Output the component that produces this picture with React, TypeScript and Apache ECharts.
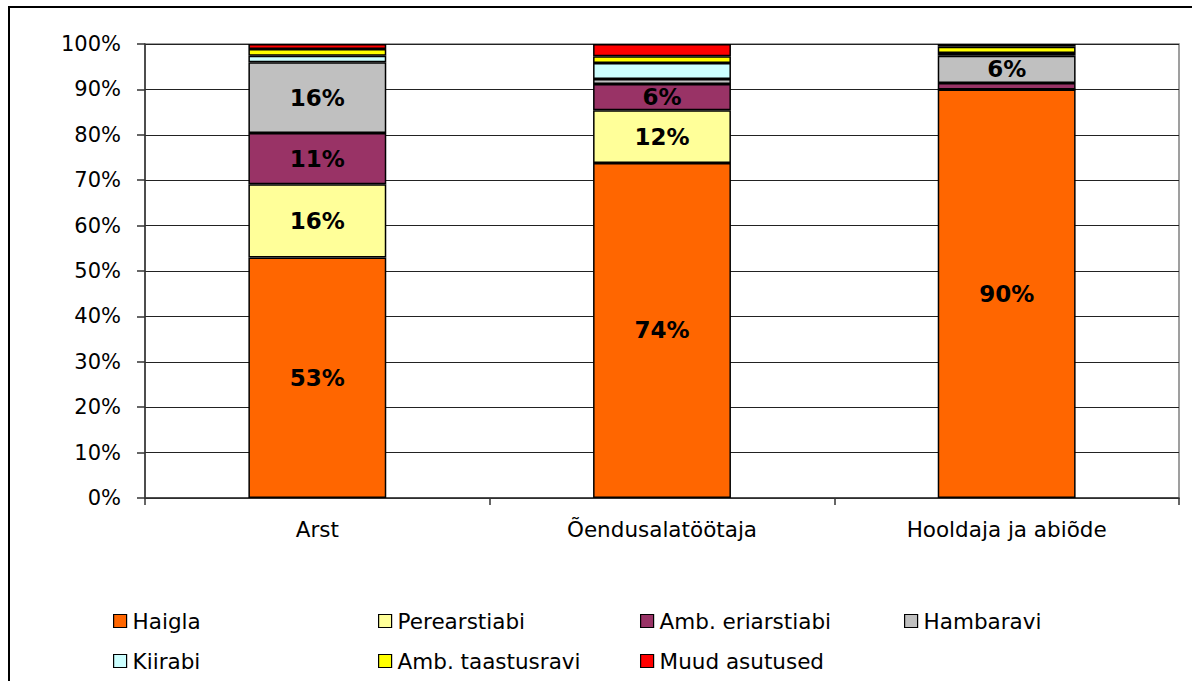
import React, { useEffect, useRef } from "react";
import * as echarts from "echarts";

const categories = ["Arst", "Õendusalatöötaja", "Hooldaja ja abiõde"];
const seriesNames = ["Haigla", "Perearstiabi", "Amb. eriarstiabi", "Hambaravi", "Kiirabi", "Amb. taastusravi", "Muud asutused"];
const haigla = [53.0, 73.8, 90.0];
const perearstiabi = [16.1, 11.6, 0.0];
const ambEriarstiabi = [11.3, 5.8, 1.4];
const hambaravi = [15.6, 1.1, 6.0];
const kiirabi = [1.4, 3.5, 0.6];
const ambTaastusravi = [1.5, 1.5, 1.4];
const muudAsutused = [1.1, 2.7, 0.6];
const yTicks = [0, 10, 20, 30, 40, 50, 60, 70, 80, 90, 100];

const seriesData = [haigla, perearstiabi, ambEriarstiabi, hambaravi, kiirabi, ambTaastusravi, muudAsutused];
const colors = ["#FF6600", "#FFFF99", "#993366", "#C0C0C0", "#CCFFFF", "#FFFF00", "#FF0000"];
const legendPos = [
  [108, 605], [373, 605], [635, 605], [899, 605],
  [108, 645], [373, 645], [635, 645],
];

const FONT = "'DejaVu Sans', 'Liberation Sans', sans-serif";

export default function App() {
  const ref = useRef<HTMLDivElement>(null);
  useEffect(() => {
    if (!ref.current) return;
    const chart = echarts.init(ref.current, null, { renderer: "svg" });
    chart.setOption({
      animation: false,
      backgroundColor: "#fff",
      textStyle: { fontFamily: FONT },
      graphic: [
        {
          type: "rect",
          shape: { x: 9, y: 7, width: 1250, height: 750 },
          style: { fill: "none", stroke: "#000", lineWidth: 2 },
          silent: true,
        },
      ],
      legend: seriesNames.map((n, i) => ({
        data: [n],
        left: legendPos[i][0],
        top: legendPos[i][1],
        itemWidth: 13,
        itemHeight: 13,
        itemGap: 0,
        icon: "rect",
        selectedMode: false,
        textStyle: { fontFamily: FONT, fontSize: 21.5, color: "#000", padding: [0, 0, 0, 1] },
        itemStyle: { borderColor: "#000", borderWidth: 1.2 },
      })),
      grid: {
        left: 145,
        top: 44,
        right: 13,
        bottom: 183,
        show: true,
        borderColor: "#808080",
        borderWidth: 1.5,
      },
      xAxis: {
        type: "category",
        data: categories,
        axisLine: { lineStyle: { color: "#333", width: 1.5 } },
        axisTick: { show: true, length: 7, lineStyle: { color: "#333", width: 1.5 } },
        axisLabel: { fontFamily: FONT, fontSize: 21.5, color: "#000", margin: 20 },
      },
      yAxis: {
        type: "value",
        min: 0,
        max: 100,
        interval: 10,
        axisLine: { show: true, lineStyle: { color: "#333", width: 1.5 } },
        axisTick: { show: true, length: 8, lineStyle: { color: "#333", width: 1.5 } },
        splitLine: { show: true, lineStyle: { color: "#222", width: 1.2 } },
        axisLabel: {
          fontFamily: FONT,
          fontSize: 21,
          color: "#000",
          margin: 24,
          formatter: (v: number) => (yTicks.includes(v) ? v + "%" : ""),
        },
      },
      series: seriesNames.map((n, i) => ({
        name: n,
        type: "bar",
        stack: "total",
        barWidth: "40%",
        data: seriesData[i],
        itemStyle: { color: colors[i], borderColor: "#000", borderWidth: 1.5 },
        label: {
          show: true,
          position: "inside",
          fontFamily: FONT,
          fontSize: 23,
          fontWeight: "bold",
          color: "#000",
          formatter: (p: any) => (p.value >= 5 ? Math.round(p.value) + "%" : ""),
        },
      })),
    });
    return () => chart.dispose();
  }, []);
  return (
    <div
      ref={ref}
      style={{ position: "absolute", left: 0, top: 0, width: 1192, height: 681 }}
    />
  );
}
